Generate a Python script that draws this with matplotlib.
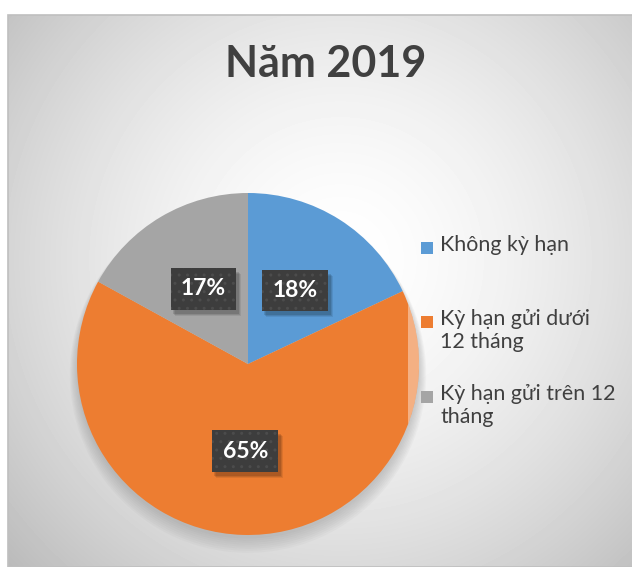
import numpy as np
import matplotlib.pyplot as plt
from matplotlib.patches import Rectangle

plt.rcParams['font.family'] = ['Lato', 'Noto Sans', 'DejaVu Sans']
plt.rcParams['hatch.color'] = '#4c4c4c'
plt.rcParams['hatch.linewidth'] = 1.0

# data
title = 'Năm 2019'
categories = ['Không kỳ hạn', 'Kỳ hạn gửi dưới\n12 tháng', 'Kỳ hạn gửi trên 12\ntháng']
values = [18, 65, 17]
colors = ['#5B9BD5', '#ED7D31', '#A5A5A5']

W, H = 632, 567
fig = plt.figure(figsize=(W / 100, H / 100), dpi=100)


def px(x0, y0, w, h):
    # pixel box (top-left origin) -> figure fraction
    return [x0 / W, 1 - (y0 + h) / H, w / W, h / H]


# radial gradient background of the chart area
bg = fig.add_axes(px(8, 15, W - 8, H - 15))
xs = np.arange(8, W)
ys = np.arange(15, H)
X, Y = np.meshgrid(xs, ys)
d = np.sqrt((X - 340) ** 2 + (Y - 260) ** 2) / 420
grad = 1 - 0.24 * np.clip(d, 0, 1.2) ** 1.6
bg.imshow(grad, cmap='gray', vmin=0, vmax=1, aspect='auto',
          extent=(8, W, H, 15), interpolation='bilinear')
bg.set_xlim(8, W)
bg.set_ylim(H, 15)
bg.axis('off')
fig.patches.append(Rectangle((8 / W, 0), 1, 1 - 15 / H, transform=fig.transFigure,
                             facecolor='none', edgecolor='#bfbfbf', lw=1.2))

fig.text(326 / W, 1 - 64 / H, title, ha='center', va='center',
         fontsize=31, fontweight='bold', color='#404040')

# pie
cx, cy, r = 248, 364, 171
ax = fig.add_axes(px(cx - r - 20, cy - r - 20, 2 * r + 40, 2 * r + 40))

# soft shadow under the pie
for k in range(8):
    ax.add_patch(plt.Circle((0.0, -0.02 - 0.006 * k), 1.0 + 0.006 * k,
                            color='#808080', alpha=0.05, lw=0, zorder=0))

wedges, texts, autotexts = ax.pie(values, colors=colors, startangle=90, counterclock=False,
                                  radius=1, autopct='%1.0f%%', pctdistance=0.51,
                                  wedgeprops=dict(linewidth=0),
                                  textprops=dict(color='white', fontsize=16.5, fontweight='bold'))
lim = (r + 20) / r
ax.set_xlim(-lim, lim)
ax.set_ylim(-lim, lim)
ax.axis('off')
for w in wedges:
    w.set_zorder(2)
for t in autotexts:
    t.set_zorder(6)
    t.set_bbox(dict(boxstyle='square,pad=0.45', facecolor='#3d3d3d', edgecolor='#4c4c4c',
                    linewidth=0, hatch='..'))

# legend box is semi transparent: it only shows where it lies over the pie
circ = plt.Circle((0, 0), 1.0, transform=ax.transData)
x_left = (408 - cx) / r
over = Rectangle((x_left, -(445 - cy) / r), 2, 220 / r, facecolor='white', alpha=0.4,
                 lw=0, zorder=3)
ax.add_patch(over)
over.set_clip_path(circ)

# drop shadows of the data label boxes (display coords)
fig.canvas.draw()
for t in autotexts:
    bb = t.get_bbox_patch().get_window_extent()
    for k, a in enumerate([0.12, 0.1, 0.08]):
        ax.add_patch(Rectangle((bb.x0 + 2 + k, bb.y0 - 4 - k), bb.width + 1, bb.height,
                               transform=None, facecolor='black', alpha=a, lw=0,
                               zorder=4, clip_on=False))

leg_y = [248, 322, 397]
for lab, col, y in zip(categories, colors, leg_y):
    fig.patches.append(Rectangle((421 / W, 1 - (y + 6) / H), 12 / W, 12 / H,
                                 transform=fig.transFigure, facecolor=col, lw=0, zorder=4))
    fig.text(440 / W, 1 - (y - 13) / H, lab, ha='left', va='top', fontsize=15.4,
             color='#404040', linespacing=1.2, zorder=5)

fig.savefig('out.png', dpi=100)
